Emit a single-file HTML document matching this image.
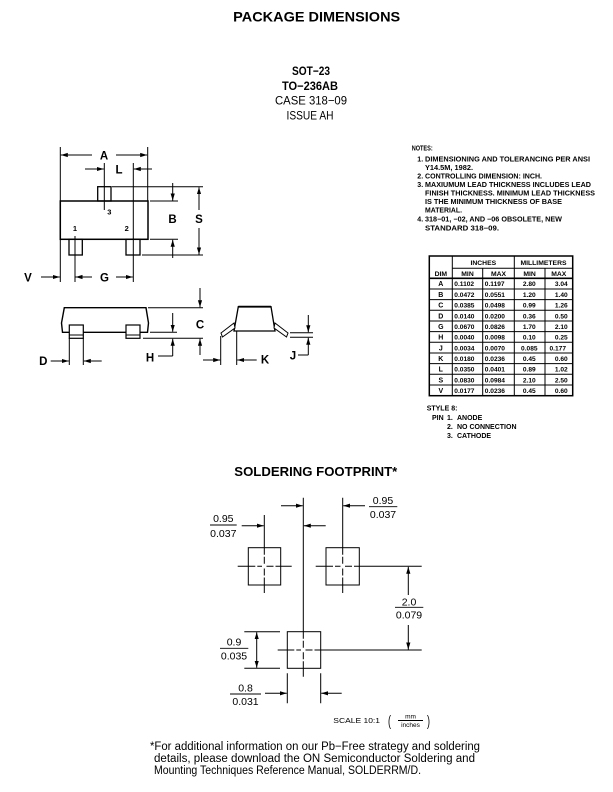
<!DOCTYPE html>
<html><head><meta charset="utf-8"><style>
html,body{margin:0;padding:0;background:#fff;}
svg{display:block;}
text{font-family:"Liberation Sans",Arial,sans-serif;fill:#000;}
</style></head><body>
<svg width="613" height="792" viewBox="0 0 613 792" xmlns="http://www.w3.org/2000/svg">
<defs>
<marker id="a" markerWidth="8" markerHeight="6" refX="7" refY="3" orient="auto" markerUnits="userSpaceOnUse"><path d="M0,0.9 L7,3 L0,5.1 z" fill="#000"/></marker>
</defs>

<!-- Titles -->
<text x="316.7" y="21.5" font-size="14" font-weight="bold" text-anchor="middle" textLength="167" lengthAdjust="spacingAndGlyphs">PACKAGE DIMENSIONS</text>
<text x="311" y="75" font-size="12" font-weight="bold" text-anchor="middle" textLength="38" lengthAdjust="spacingAndGlyphs">SOT−23</text>
<text x="310" y="90" font-size="12" font-weight="bold" text-anchor="middle" textLength="56" lengthAdjust="spacingAndGlyphs">TO−236AB</text>
<text x="311" y="104.5" font-size="12" text-anchor="middle" textLength="72" lengthAdjust="spacingAndGlyphs">CASE 318−09</text>
<text x="310" y="119.5" font-size="12" text-anchor="middle" textLength="47" lengthAdjust="spacingAndGlyphs">ISSUE AH</text>

<!-- TOP VIEW -->
<g stroke="#000" fill="none" stroke-width="1">
<rect x="60.3" y="201" width="87.7" height="38.3" stroke-width="1.5"/>
<rect x="97.7" y="186.7" width="13.3" height="14.3" stroke-width="1.3"/>
<rect x="69" y="239.3" width="13.3" height="15.7" stroke-width="1.3"/>
<rect x="126" y="239.3" width="14" height="15.7" stroke-width="1.3"/>
<path d="M60.3 147V282M147.7 147V201M104.3 163V210M133.3 163V282M75 236V282"/>
<path d="M112 186.7H203M150 201H178M150 239.3H178M142 255H203"/>
<line x1="92" y1="155" x2="60.8" y2="155" marker-end="url(#a)"/>
<line x1="116" y1="155" x2="147.2" y2="155" marker-end="url(#a)"/>
<line x1="85" y1="169" x2="103.8" y2="169" marker-end="url(#a)"/>
<line x1="152" y1="169" x2="133.8" y2="169" marker-end="url(#a)"/>
<line x1="41" y1="277" x2="59.8" y2="277" marker-end="url(#a)"/>
<line x1="92" y1="277" x2="75.5" y2="277" marker-end="url(#a)"/>
<line x1="116" y1="277" x2="132.8" y2="277" marker-end="url(#a)"/>
<line x1="172.7" y1="183" x2="172.7" y2="200.5" marker-end="url(#a)"/>
<line x1="172.7" y1="258" x2="172.7" y2="239.8" marker-end="url(#a)"/>
<line x1="199" y1="210" x2="199" y2="187.2" marker-end="url(#a)"/>
<line x1="199" y1="228" x2="199" y2="254.5" marker-end="url(#a)"/>
</g>
<g font-size="11.5" font-weight="bold" text-anchor="middle">
<text x="104" y="159.5">A</text>
<text x="119" y="173.5">L</text>
<text x="172.5" y="223">B</text>
<text x="199" y="223">S</text>
<text x="28" y="281.5">V</text>
<text x="104.5" y="281.5">G</text>
</g>
<g font-size="7.5" font-weight="bold" text-anchor="middle">
<text x="109.3" y="214.5">3</text>
<text x="75" y="231">1</text>
<text x="126.7" y="231">2</text>
</g>

<!-- SIDE VIEW -->
<g stroke="#000" fill="none" stroke-width="1">
<polygon points="64.3,307.7 146,307.7 148.5,323 147.5,332.3 62.5,332.3 61.5,323" stroke-width="1.4"/>
<rect x="69.3" y="325" width="14" height="13.3" fill="#fff" stroke-width="1.2"/>
<rect x="126" y="325" width="14" height="13.3" fill="#fff" stroke-width="1.2"/>
<path d="M69.3 335H83.3M126 335H140"/>
<path d="M148 307.7H203M150 332.3H177M143 338.3H203"/>
<line x1="200" y1="288" x2="200" y2="307.2" marker-end="url(#a)"/>
<line x1="200" y1="355" x2="200" y2="338.8" marker-end="url(#a)"/>
<line x1="172.7" y1="313" x2="172.7" y2="331.8" marker-end="url(#a)"/>
<line x1="172.7" y1="356" x2="172.7" y2="338.8" marker-end="url(#a)"/>
<path d="M158 356H172.7"/>
<path d="M69.3 338.3V365M83.3 338.3V365"/>
<line x1="50.7" y1="361" x2="68.8" y2="361" marker-end="url(#a)"/>
<line x1="101.7" y1="361" x2="83.8" y2="361" marker-end="url(#a)"/>
</g>
<g font-size="11.5" font-weight="bold" text-anchor="middle">
<text x="200" y="328.5">C</text>
<text x="150" y="361.5">H</text>
<text x="43.3" y="365">D</text>
</g>

<!-- END VIEW -->
<g stroke="#000" fill="none" stroke-width="1">
<polygon points="238.3,306.7 271,306.7 275,331 234,331" stroke-width="1.3"/>
<path d="M238.3 306.7H271" stroke-width="1.8"/>
<polygon points="234,323 221,333 222.5,337 235,328" fill="#fff"/>
<polygon points="275,323 288,333 286.5,337 274,328" fill="#fff"/>
<path d="M220.7 336V365M236.7 331V365"/>
<line x1="203" y1="360" x2="220.2" y2="360" marker-end="url(#a)"/>
<line x1="256.7" y1="360" x2="237.2" y2="360" marker-end="url(#a)"/>
<path d="M290 332.7H313M290 337.3H313"/>
<line x1="308.3" y1="315" x2="308.3" y2="332.2" marker-end="url(#a)"/>
<line x1="308.3" y1="355" x2="308.3" y2="337.8" marker-end="url(#a)"/>
<path d="M298 355H308.3"/>
</g>
<g font-size="11.5" font-weight="bold" text-anchor="middle">
<text x="265" y="363.5">K</text>
<text x="293" y="359.5">J</text>
</g>

<!-- NOTES -->
<g font-size="7" font-weight="bold">
<text x="411.7" y="150.5" textLength="21" lengthAdjust="spacingAndGlyphs">NOTES:</text>
<text x="417.3" y="161.5">1.</text>
<text x="425" y="161.5" textLength="165" lengthAdjust="spacingAndGlyphs">DIMENSIONING AND TOLERANCING PER ANSI</text>
<text x="425" y="170" textLength="48" lengthAdjust="spacingAndGlyphs">Y14.5M, 1982.</text>
<text x="417.3" y="178.5">2.</text>
<text x="425" y="178.5" textLength="117" lengthAdjust="spacingAndGlyphs">CONTROLLING DIMENSION: INCH.</text>
<text x="417.3" y="187">3.</text>
<text x="425" y="187" textLength="166" lengthAdjust="spacingAndGlyphs">MAXIUMUM LEAD THICKNESS INCLUDES LEAD</text>
<text x="425" y="195.5" textLength="170" lengthAdjust="spacingAndGlyphs">FINISH THICKNESS. MINIMUM LEAD THICKNESS</text>
<text x="425" y="204" textLength="137" lengthAdjust="spacingAndGlyphs">IS THE MINIMUM THICKNESS OF BASE</text>
<text x="425" y="212.5" textLength="37" lengthAdjust="spacingAndGlyphs">MATERIAL.</text>
<text x="417.3" y="221.5">4.</text>
<text x="425" y="221.5" textLength="137" lengthAdjust="spacingAndGlyphs">318−01, −02, AND −06 OBSOLETE, NEW</text>
<text x="425" y="230.5" textLength="74" lengthAdjust="spacingAndGlyphs">STANDARD 318−09.</text>
</g>

<!-- TABLE -->
<g stroke="#000" fill="none" stroke-width="1">
<rect x="429.3" y="256" width="143.4" height="139.7" stroke-width="1.5"/>
<path d="M452.3 256V395.7M514.3 256V395.7M482.7 268.3V395.7M545 268.3V395.7M452.3 268.3H572.7"/>
<path d="M429.3 278.3H572.7" stroke-width="1.6"/>
<path d="M429.3 289H572.7M429.3 299.6H572.7M429.3 310.3H572.7M429.3 321H572.7M429.3 331.6H572.7M429.3 342.3H572.7M429.3 353H572.7M429.3 363.6H572.7M429.3 374.3H572.7M429.3 385H572.7"/>
</g>
<g font-size="6.8" font-weight="bold" text-anchor="middle">
<text x="483.3" y="265">INCHES</text>
<text x="543.5" y="265">MILLIMETERS</text>
<text x="440.8" y="275.8">DIM</text>
<text x="467.5" y="275.8">MIN</text>
<text x="498.5" y="275.8">MAX</text>
<text x="529.6" y="275.8">MIN</text>
<text x="558.8" y="275.8">MAX</text>
</g>
<g font-size="7" font-weight="bold" text-anchor="middle">
<text x="440.8" y="286.2">A</text>
<text x="440.8" y="296.9">B</text>
<text x="440.8" y="307.6">C</text>
<text x="440.8" y="318.3">D</text>
<text x="440.8" y="328.9">G</text>
<text x="440.8" y="339.6">H</text>
<text x="440.8" y="350.3">J</text>
<text x="440.8" y="360.9">K</text>
<text x="440.8" y="371.6">L</text>
<text x="440.8" y="382.3">S</text>
<text x="440.8" y="392.9">V</text>
</g>
<g font-size="6.6" font-weight="bold">
<g>
<text x="454.3" y="286.2">0.1102</text>
<text x="454.3" y="296.9">0.0472</text>
<text x="454.3" y="307.6">0.0385</text>
<text x="454.3" y="318.3">0.0140</text>
<text x="454.3" y="328.9">0.0670</text>
<text x="454.3" y="339.6">0.0040</text>
<text x="454.3" y="350.3">0.0034</text>
<text x="454.3" y="360.9">0.0180</text>
<text x="454.3" y="371.6">0.0350</text>
<text x="454.3" y="382.3">0.0830</text>
<text x="454.3" y="392.9">0.0177</text>
</g>
<g>
<text x="484.8" y="286.2">0.1197</text>
<text x="484.8" y="296.9">0.0551</text>
<text x="484.8" y="307.6">0.0498</text>
<text x="484.8" y="318.3">0.0200</text>
<text x="484.8" y="328.9">0.0826</text>
<text x="484.8" y="339.6">0.0098</text>
<text x="484.8" y="350.3">0.0070</text>
<text x="484.8" y="360.9">0.0236</text>
<text x="484.8" y="371.6">0.0401</text>
<text x="484.8" y="382.3">0.0984</text>
<text x="484.8" y="392.9">0.0236</text>
</g>
<g text-anchor="middle">
<text x="529.3" y="286.2">2.80</text>
<text x="529.3" y="296.9">1.20</text>
<text x="529.3" y="307.6">0.99</text>
<text x="529.3" y="318.3">0.36</text>
<text x="529.3" y="328.9">1.70</text>
<text x="529.3" y="339.6">0.10</text>
<text x="529.3" y="350.3">0.085</text>
<text x="529.3" y="360.9">0.45</text>
<text x="529.3" y="371.6">0.89</text>
<text x="529.3" y="382.3">2.10</text>
<text x="529.3" y="392.9">0.45</text>
</g>
<g text-anchor="end">
<text x="567.7" y="286.2">3.04</text>
<text x="567.7" y="296.9">1.40</text>
<text x="567.7" y="307.6">1.26</text>
<text x="567.7" y="318.3">0.50</text>
<text x="567.7" y="328.9">2.10</text>
<text x="567.7" y="339.6">0.25</text>
<text x="566" y="350.3">0.177</text>
<text x="567.7" y="360.9">0.60</text>
<text x="567.7" y="371.6">1.02</text>
<text x="567.7" y="382.3">2.50</text>
<text x="567.7" y="392.9">0.60</text>
</g>
</g>

<!-- STYLE 8 -->
<g font-size="7" font-weight="bold">
<text x="426.7" y="410.5">STYLE 8:</text>
<text x="432" y="420">PIN</text>
<text x="447" y="420">1.</text>
<text x="457" y="420">ANODE</text>
<text x="447" y="429">2.</text>
<text x="457" y="429">NO CONNECTION</text>
<text x="447" y="438">3.</text>
<text x="457" y="438">CATHODE</text>
</g>

<!-- SOLDERING FOOTPRINT -->
<text x="315.8" y="476" font-size="12.5" font-weight="bold" text-anchor="middle" textLength="163" lengthAdjust="spacingAndGlyphs">SOLDERING FOOTPRINT*</text>

<g stroke="#000" fill="none" stroke-width="1">
<path d="M303.3 497.7V631.7M303.3 668.3V676.7"/>
<path d="M342.7 497.7V547.7M342.7 585V593"/>
<path d="M264.3 515V547.7M264.3 585V593"/>
<rect x="248.3" y="547.7" width="32.4" height="37.3"/>
<rect x="326" y="547.7" width="33.3" height="37.3"/>
<rect x="287.3" y="631.7" width="33.4" height="36.6"/>
<path d="M237.7 566.3H248.3M280.7 566.3H291.7"/>
<path d="M248.3 566.3H262M266.5 566.3H280.7M264.3 547.7V564M264.3 568.5V585" stroke-dasharray="7,2"/>
<path d="M315.7 566.3H326M359.3 566.3H421.7"/>
<path d="M326 566.3H340.5M345 566.3H359.3M342.7 547.7V564M342.7 568.5V585" stroke-dasharray="7,2"/>
<path d="M277.7 650H287.3M320.7 650H421.7"/>
<path d="M287.3 650H301M305.5 650H320.7M303.3 631.7V648M303.3 652.3V668.3" stroke-dasharray="7,2"/>
<line x1="281" y1="505.7" x2="302.8" y2="505.7" marker-end="url(#a)"/>
<line x1="365" y1="505.7" x2="343.2" y2="505.7" marker-end="url(#a)"/>
<line x1="241.7" y1="525.7" x2="263.8" y2="525.7" marker-end="url(#a)"/>
<line x1="325.7" y1="525.7" x2="303.8" y2="525.7" marker-end="url(#a)"/>
<line x1="408.3" y1="595" x2="408.3" y2="566.8" marker-end="url(#a)"/>
<line x1="408.3" y1="625" x2="408.3" y2="649.5" marker-end="url(#a)"/>
<path d="M244.3 631.7H280M244.3 668.3H280"/>
<line x1="256.7" y1="650" x2="256.7" y2="632.2" marker-end="url(#a)"/>
<line x1="256.7" y1="650" x2="256.7" y2="667.8" marker-end="url(#a)"/>
<path d="M287.3 673.3V703.3M320.7 673.3V703.3"/>
<line x1="265" y1="693.3" x2="286.8" y2="693.3" marker-end="url(#a)"/>
<line x1="341.7" y1="693.3" x2="321.2" y2="693.3" marker-end="url(#a)"/>
<path d="M369 506.7H397.3M210 525H236.7M395 607.3H423.3M220 648.3H248.3M230 694H261M398 720.5H423" stroke-width="0.9"/>
</g>
<g font-size="10.5" text-anchor="middle">
<text x="383" y="503.8">0.95</text>
<text x="383" y="518">0.037</text>
<text x="223.3" y="522">0.95</text>
<text x="223.3" y="537">0.037</text>
<text x="409" y="605.5">2.0</text>
<text x="409" y="618.7">0.079</text>
<text x="234" y="645.5">0.9</text>
<text x="234" y="659.5">0.035</text>
<text x="245.5" y="691.5">0.8</text>
<text x="245.5" y="704.8">0.031</text>
</g>
<text x="333.3" y="723" font-size="7.5" textLength="46.7" lengthAdjust="spacingAndGlyphs">SCALE 10:1</text>
<text x="388" y="726" font-size="15" transform="translate(388 722) scale(0.6 1) translate(-388 -722)">(</text>
<text x="427" y="726" font-size="15" transform="translate(427 722) scale(0.6 1) translate(-427 -722)">)</text>
<text x="410.5" y="718.5" font-size="6.5" text-anchor="middle">mm</text>
<text x="410.5" y="727" font-size="6.5" text-anchor="middle">inches</text>

<!-- FOOTER -->
<g font-size="11.5">
<text x="150" y="750" textLength="330" lengthAdjust="spacingAndGlyphs">*For additional information on our Pb−Free strategy and soldering</text>
<text x="154" y="762" textLength="321" lengthAdjust="spacingAndGlyphs">details, please download the ON Semiconductor Soldering and</text>
<text x="154" y="774" textLength="267" lengthAdjust="spacingAndGlyphs">Mounting Techniques Reference Manual, SOLDERRM/D.</text>
</g>
</svg>
</body></html>
